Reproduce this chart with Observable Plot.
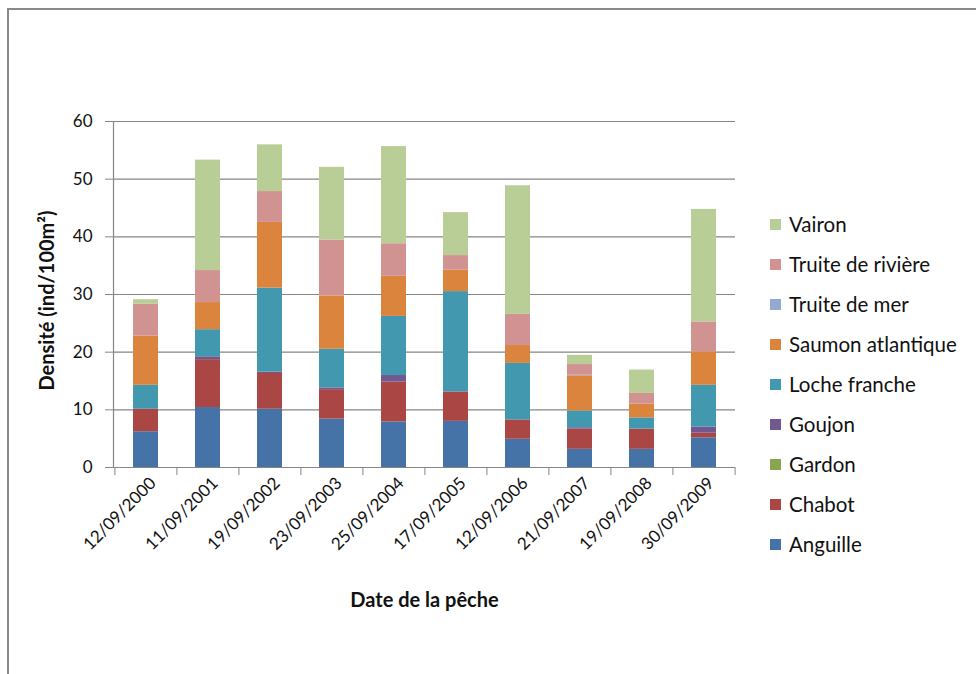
<!DOCTYPE html>
<html>
<head>
<meta charset="utf-8">
<script src="https://cdn.jsdelivr.net/npm/d3@7"></script>
<script src="https://cdn.jsdelivr.net/npm/@observablehq/plot@0.6"></script>
<style>
  html, body { margin: 0; padding: 0; background: #fff; }
  #chart { position: relative; width: 976px; height: 674px; overflow: hidden; font-family: Lato, "Open Sans", sans-serif; }
  #border { position: absolute; left: 7px; top: 8px; width: 1000px; height: 700px;
            border-top: 2px solid #8a8a8a; border-left: 2px solid #8a8a8a; }
  #chart svg { position: absolute; left: 0; top: 0; }
  #legend { position: absolute; left: 770px; top: 204px; }
  .item { height: 40px; display: flex; align-items: center; font-size: 20.5px; color: #111; }
  .sw { width: 11px; height: 11px; margin-right: 8px; }
</style>
</head>
<body>
<div id="chart"><div id="border"></div><div id="legend"></div></div>
<script>
// Fishing dates (categories along x)
const dates = ["12/09/2000", "11/09/2001", "19/09/2002", "23/09/2003", "25/09/2004",
               "17/09/2005", "12/09/2006", "21/09/2007", "19/09/2008", "30/09/2009"];

// Species, bottom of the stack first
const species = ["Anguille", "Chabot", "Gardon", "Goujon", "Loche franche",
                 "Saumon atlantique", "Truite de mer", "Truite de rivière", "Vairon"];
const colors = ["#4572A7", "#AA4643", "#89A54E", "#71588F", "#4198AF",
                "#DB843D", "#93A9CF", "#D19392", "#B9CD96"];

// Densities (ind/100m²) per species, one value per date
const anguille       = [6.2, 10.4, 10.1, 8.4, 7.9, 8.0, 4.9, 3.15, 3.15, 5.15];
const chabot         = [3.9, 8.3, 6.2, 5.1, 6.9, 5.1, 3.35, 3.5, 3.5, 0.8];
const gardon         = [0, 0, 0, 0, 0, 0, 0, 0, 0, 0];
const goujon         = [0, 0.5, 0.25, 0.3, 1.15, 0, 0, 0.25, 0, 1.05];
const locheFranche   = [4.15, 4.7, 14.55, 6.7, 10.25, 17.4, 9.8, 2.9, 1.95, 7.25];
const saumon         = [8.55, 4.7, 11.4, 9.25, 6.95, 3.7, 3.1, 6.1, 2.4, 5.8];
const truiteMer      = [0, 0, 0, 0, 0, 0, 0, 0.1, 0, 0];
const truiteRiviere  = [5.5, 5.55, 5.35, 9.7, 5.65, 2.55, 5.4, 1.85, 1.85, 5.2];
const vairon         = [0.8, 19.15, 8.1, 12.6, 16.85, 7.45, 22.3, 1.6, 4.05, 19.5];

const yTicks = [0, 10, 20, 30, 40, 50, 60];

const seriesValues = [anguille, chabot, gardon, goujon, locheFranche,
                      saumon, truiteMer, truiteRiviere, vairon];

const rows = [];
species.forEach((s, i) => {
  dates.forEach((d, j) => rows.push({date: d, species: s, value: seriesValues[i][j]}));
});

const W = 976, H = 674, mL = 113, mR = 241, mT = 121, mB = 207;
const padIn = 0.6, padOut = 0.3;
const step = (W - mL - mR) / (dates.length - padIn + 2 * padOut);
const grey = "#868686";

const chart = Plot.plot({
  width: W, height: H,
  marginLeft: mL, marginRight: mR, marginTop: mT, marginBottom: mB,
  style: {fontFamily: "Lato, 'Open Sans', sans-serif", fontSize: "17px", color: "#111", background: "transparent"},
  x: {domain: dates, paddingInner: padIn, paddingOuter: padOut, axis: null},
  y: {domain: [0, 60], axis: null},
  color: {domain: species, range: colors},
  marks: [
    Plot.gridY(yTicks, {stroke: grey, strokeOpacity: 1, strokeWidth: 1.2}),
    Plot.frame({anchor: "left", stroke: grey, strokeWidth: 1.2}),
    Plot.barY(rows, {x: "date", y: "value", fill: "species", order: species}),
    // y axis ticks and labels
    Plot.axisY(yTicks, {tickSize: 8, tickPadding: 13, stroke: grey, fontSize: 17, label: null}),
    // category boundary ticks on the x axis
    Plot.axisX(dates, {tickSize: 8, tickFormat: () => "", dx: -step / 2, stroke: grey, label: null}),
    Plot.axisX(dates.slice(-1), {tickSize: 8, tickFormat: () => "", dx: step / 2, stroke: grey, label: null}),
    // rotated date labels
    Plot.axisX(dates, {tickSize: 0, tickPadding: 13, dx: 7, tickRotate: -45, fontSize: 17, label: null}),
    // axis titles
    Plot.text(["Densité (ind/100m²)"], {frameAnchor: "left", dx: -66, dy: 6, rotate: -90, textAnchor: "middle",
      text: d => d, fontWeight: "bold", fontSize: 20, fill: "#111"}),
    Plot.text(["Date de la pêche"], {frameAnchor: "bottom", dy: 139, text: d => d,
      fontWeight: "bold", fontSize: 20, fill: "#111"})
  ]
});
document.getElementById("chart").appendChild(chart);

// legend, top entry is the top of the stack
const legend = document.getElementById("legend");
species.map((s, i) => [s, colors[i]]).reverse().forEach(([s, c]) => {
  const item = document.createElement("div");
  item.className = "item";
  item.innerHTML = `<div class="sw" style="background:${c}"></div><span>${s}</span>`;
  legend.appendChild(item);
});
</script>
</body>
</html>
